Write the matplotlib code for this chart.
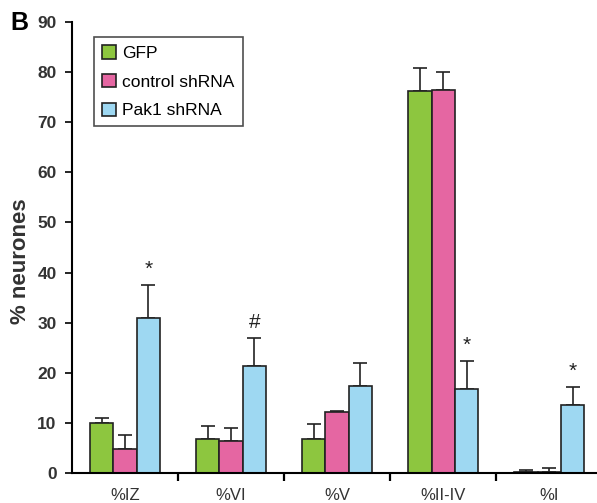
import matplotlib
matplotlib.use("Agg")
import matplotlib.pyplot as plt
import numpy as np

plt.rcParams['font.family'] = ['Liberation Sans', 'DejaVu Sans']

categories = ["%IZ", "%VI", "%V", "%II-IV", "%I"]
series = ["GFP", "control shRNA", "Pak1 shRNA"]
gfp = [10.0, 6.8, 6.8, 76.2, 0.3]
ctrl = [4.7, 6.4, 12.1, 76.5, 0.3]
pak1 = [31.0, 21.3, 17.4, 16.7, 13.5]
gfp_err = [1.0, 2.5, 2.9, 4.6, 0.3]
ctrl_err = [2.8, 2.6, 0.3, 3.5, 0.7]
pak1_err = [6.5, 5.7, 4.6, 5.6, 3.7]
marks = ["*", "#", "", "*", "*"]

colors = ["#8DC63F", "#E566A2", "#9ED8F2"]

fig = plt.figure(figsize=(5.97, 5.03), dpi=100)
ax = fig.add_axes([0.1206, 0.0596, 0.8794, 0.8966])

x = np.arange(len(categories))
w = 0.22
for i, (vals, errs) in enumerate([(gfp, gfp_err), (ctrl, ctrl_err), (pak1, pak1_err)]):
    ax.bar(x + (i - 1) * w, vals, w, color=colors[i], edgecolor="#222222",
           linewidth=1.2, label=series[i], zorder=2,
           yerr=[np.zeros(len(errs)), errs],
           error_kw=dict(ecolor="#222222", elinewidth=1.2, capsize=5, capthick=1.2, zorder=1))

for xi, (v, e, m) in enumerate(zip(pak1, pak1_err, marks)):
    if m:
        ax.text(xi + w, v + e + 1.2, m, ha="center", va="bottom", fontsize=15, color="#222222")

ax.set_xlim(-0.5, 4.45)
ax.set_ylim(0, 90)
ax.set_yticks(np.arange(0, 91, 10))
ax.set_xticks(x)
ax.set_xticklabels(categories)
ax.set_xticks(np.arange(0.5, 4.5, 1), minor=True)
ax.tick_params(axis="x", which="major", length=0, pad=11, labelsize=12, colors="#333333")
ax.tick_params(axis="x", which="minor", length=6, width=1.6, direction="out")
ax.tick_params(axis="y", length=5, width=1.2, direction="out", labelsize=12.5, pad=6, labelcolor="#333333")
for lab in ax.get_yticklabels():
    lab.set_fontweight("bold")
ax.spines["top"].set_visible(False)
ax.spines["right"].set_visible(False)
ax.spines["left"].set_linewidth(1.5)
ax.spines["bottom"].set_linewidth(1.5)

ax.set_ylabel("% neurones", fontsize=16, fontweight="bold", color="#333333")
ax.yaxis.set_label_coords(-0.078, 0.47)

leg = ax.legend(loc="upper left", bbox_to_anchor=(0.025, 0.985), fontsize=12.5,
                frameon=True, fancybox=False, handlelength=0.8, handleheight=0.8,
                handletextpad=0.4, labelspacing=0.75, borderpad=0.45)
leg.get_frame().set_edgecolor("#222222")
leg.get_frame().set_linewidth(1.2)

fig.text(0.018, 0.955, "B", fontsize=18, fontweight="bold", va="center")

fig.savefig("out.png", dpi=100)
